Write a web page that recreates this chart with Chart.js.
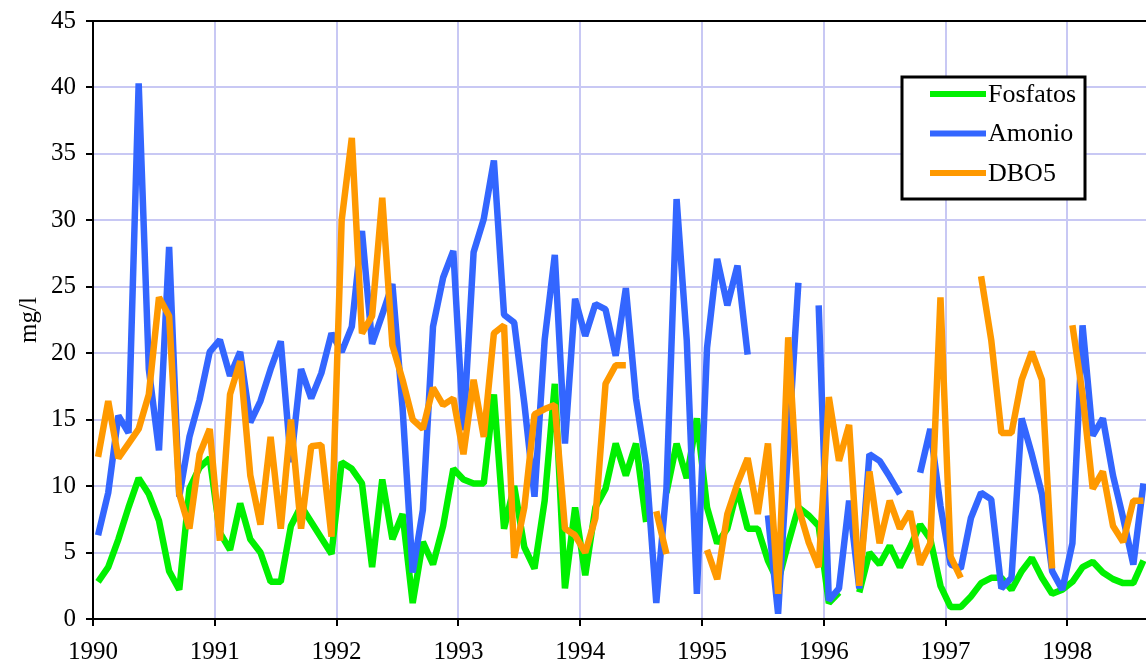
<!DOCTYPE html>
<html>
<head>
<meta charset="utf-8">
<title>Fosfatos, Amonio y DBO5</title>
<script src="https://cdn.jsdelivr.net/npm/chart.js@4/dist/chart.umd.min.js"></script>
<style>
  html, body { margin: 0; padding: 0; background: #fff; }
  #wrap { width: 1146px; height: 664px; }
</style>
</head>
<body>
<div id="wrap"><canvas id="grafico" width="1146" height="664"></canvas></div>
<script>
// Monthly samples, Jan 1990 - Aug 1998 (null = no measurement)
const firstYear = 1990;
const lastYear = 1998;
const yearTicks = [1990, 1991, 1992, 1993, 1994, 1995, 1996, 1997, 1998];
const yTicks = [0, 5, 10, 15, 20, 25, 30, 35, 40, 45];

const fosfatos = [
  2.8, 3.9, 6.0, 8.4, 10.6, 9.4, 7.4, 3.6, 2.2, 9.8, 11.4, 12.1,
  6.5, 5.2, 8.7, 6.0, 5.0, 2.8, 2.8, 7.0, 8.5, 7.3, 6.1, 4.9,
  11.8, 11.3, 10.2, 3.9, 10.5, 6.0, 7.9, 1.2, 5.8, 4.1, 7.0, 11.3,
  10.5, 10.2, 10.2, 16.9, 6.8, 10.0, 5.4, 3.8, 8.9, 17.7, 2.3, 8.4,
  3.3, 8.4, 9.8, 13.2, 10.8, 13.2, 7.3, null, 9.5, 13.2, 10.6, 15.1,
  8.4, 5.7, 6.8, 9.8, 6.8, 6.8, 4.4, 2.8, 5.7, 8.4, 7.8, 7.0,
  1.2, 2.0, null, 2.0, 5.0, 4.1, 5.5, 3.9, 5.4, 7.1, 6.0, 2.5,
  0.9, 0.9, 1.7, 2.7, 3.1, 3.1, 2.2, 3.6, 4.6, 3.1, 1.9, 2.2,
  2.8, 3.9, 4.3, 3.5, 3.0, 2.7, 2.7, 4.4
];

const amonio = [
  6.3, 9.5, 15.3, 14.0, 40.3, 18.8, 12.7, 28.0, 9.2, 13.7, 16.5, 20.1,
  21.0, 18.3, 20.1, 14.8, 16.4, 18.8, 20.9, 11.8, 18.8, 16.6, 18.5, 21.5,
  20.1, 22.0, 29.2, 20.7, 22.9, 25.2, 15.9, 3.5, 8.2, 22.0, 25.7, 27.7,
  14.2, 27.6, 30.1, 34.5, 22.9, 22.3, 16.2, 9.2, 21.0, 27.4, 13.2, 24.1,
  21.3, 23.7, 23.3, 19.8, 24.9, 16.6, 11.6, 1.2, 9.8, 31.6, 21.0, 1.9,
  20.4, 27.1, 23.6, 26.6, 19.9, null, 7.8, 0.4, 13.0, 25.3, null, 23.6,
  1.4, 2.3, 8.9, 2.3, 12.4, 11.9, 10.7, 9.4, null, 11.0, 14.3, 8.5,
  4.1, 3.8, 7.6, 9.5, 9.0, 2.3, 3.1, 15.1, 12.4, 9.4, 3.6, 2.2,
  5.7, 22.1, 13.8, 15.1, 10.8, 7.6, 4.1, 10.2
];

const dbo5 = [
  12.2, 16.4, 12.1, 13.2, 14.3, 16.9, 24.2, 22.8, 9.4, 6.8, 12.4, 14.3,
  5.9, 16.9, 19.4, 10.8, 7.1, 13.7, 6.8, 15.0, 6.8, 13.0, 13.1, 6.2,
  30.0, 36.2, 21.5, 22.8, 31.7, 20.6, 18.0, 15.0, 14.3, 17.4, 16.1, 16.6,
  12.4, 18.0, 13.7, 21.5, 22.1, 4.6, 8.4, 15.4, 15.8, 16.1, 6.8, 6.3,
  5.0, 7.6, 17.7, 19.1, 19.1, null, null, 8.1, 4.9, null, null, null,
  5.2, 3.0, 7.9, 10.2, 12.1, 7.9, 13.2, 1.9, 21.2, 8.4, 5.8, 3.9,
  16.7, 11.9, 14.6, 2.5, 11.1, 5.7, 8.9, 6.8, 8.1, 4.1, 5.7, 24.2,
  4.7, 3.1, null, 25.8, 21.0, 14.0, 14.0, 18.0, 20.1, 18.0, 3.8, null,
  22.1, 16.9, 9.8, 11.1, 7.0, 5.8, 8.9, 8.9
];

// each sample sits in the middle of its month on the time axis
function toPoints(values) {
  return values.map((v, i) => ({ x: firstYear + (i + 0.5) / 12, y: v }));
}

const serif = '"Liberation Serif", "Times New Roman", serif';

// black frame line along the top of the plot
const topFrame = {
  id: 'topFrame',
  afterDraw(chart) {
    const { ctx, chartArea } = chart;
    ctx.save();
    ctx.strokeStyle = '#000';
    ctx.lineWidth = 2;
    ctx.beginPath();
    ctx.moveTo(chartArea.left, chartArea.top);
    ctx.lineTo(chartArea.right, chartArea.top);
    ctx.stroke();
    ctx.restore();
  }
};

// boxed legend inside the plot, top right
const boxLegend = {
  id: 'boxLegend',
  afterDraw(chart) {
    const ctx = chart.ctx;
    const box = { x: 902, y: 77, w: 183, h: 122 };
    ctx.save();
    ctx.fillStyle = '#fff';
    ctx.fillRect(box.x, box.y, box.w, box.h);
    ctx.strokeStyle = '#000';
    ctx.lineWidth = 3;
    ctx.strokeRect(box.x, box.y, box.w, box.h);
    ctx.font = '26px ' + serif;
    ctx.textBaseline = 'middle';
    ctx.fillStyle = '#000';
    const items = chart.data.datasets.slice().sort((a, b) => a.legendPos - b.legendPos);
    items.forEach((ds, k) => {
      const cy = box.y + 17 + k * 39.5;
      ctx.strokeStyle = ds.borderColor;
      ctx.lineWidth = 6;
      ctx.beginPath();
      ctx.moveTo(930, cy);
      ctx.lineTo(986, cy);
      ctx.stroke();
      ctx.fillText(ds.label, 988, cy + 1);
    });
    ctx.restore();
  }
};

const lineStyle = {
  borderWidth: 6.5,
  pointRadius: 0,
  borderJoinStyle: 'bevel',
  borderCapStyle: 'butt',
  tension: 0,
  spanGaps: false,
  fill: false
};

new Chart(document.getElementById('grafico'), {
  type: 'line',
  data: {
    datasets: [
      Object.assign({ label: 'Fosfatos', data: toPoints(fosfatos), borderColor: '#00f000', order: 3, legendPos: 0 }, lineStyle),
      Object.assign({ label: 'Amonio', data: toPoints(amonio), borderColor: '#3366ff', order: 2, legendPos: 1 }, lineStyle),
      Object.assign({ label: 'DBO5', data: toPoints(dbo5), borderColor: '#ff9900', order: 1, legendPos: 2 }, lineStyle)
    ]
  },
  options: {
    responsive: false,
    animation: false,
    devicePixelRatio: 1,
    layout: { padding: { top: 21, right: 0, left: 0, bottom: 0 } },
    plugins: {
      legend: { display: false },
      tooltip: { enabled: false }
    },
    scales: {
      x: {
        type: 'linear',
        min: firstYear,
        max: lastYear + 7.75 / 12,
        afterBuildTicks: scale => {
          scale.ticks = yearTicks.map(v => ({ value: v }));
        },
        afterFit: scale => {
          scale.height = 45;
          scale.paddingLeft = 0;
          scale.paddingRight = 0;
        },
        ticks: {
          autoSkip: false,
          maxRotation: 0,
          color: '#000',
          padding: 11,
          font: { family: serif, size: 25 },
          callback: v => String(v)
        },
        grid: {
          color: '#c8c8f4',
          lineWidth: 2,
          tickLength: 7,
          tickColor: '#000',
          tickWidth: 2
        },
        border: { color: '#000', width: 2 }
      },
      y: {
        min: 0,
        max: 45,
        afterBuildTicks: scale => {
          scale.ticks = yTicks.map(v => ({ value: v }));
        },
        afterFit: scale => {
          scale.width = 93;
          scale.paddingTop = 0;
          scale.paddingBottom = 0;
        },
        ticks: {
          color: '#000',
          padding: 10,
          font: { family: serif, size: 25 }
        },
        grid: {
          color: '#c8c8f4',
          lineWidth: 2,
          tickLength: 7,
          tickColor: '#000',
          tickWidth: 2
        },
        border: { color: '#000', width: 2 },
        title: {
          display: true,
          text: 'mg/l',
          color: '#000',
          font: { family: serif, size: 25 },
          padding: { top: 14, bottom: 0 }
        }
      }
    }
  },
  plugins: [topFrame, boxLegend]
});
</script>
</body>
</html>
